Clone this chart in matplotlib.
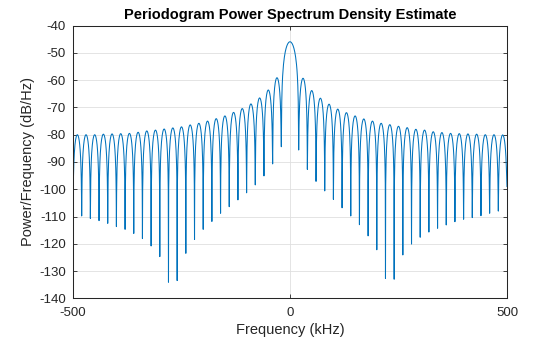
import numpy as np
import matplotlib
matplotlib.use("Agg")
from matplotlib import pyplot as plt

plt.rcParams['font.family'] = ['Liberation Sans', 'DejaVu Sans']
plt.rcParams['axes.unicode_minus'] = False

# null frequencies (kHz) and the level reached at each null (dB/Hz)
null_khz = [-500, -480, -460, -440, -420, -400, -380, -360, -340, -320,
            -300, -280, -260, -240, -220, -200, -180, -160, -140, -120,
            -100, -80, -60, -40, -20,
            20, 40, 60, 80, 100, 120, 140, 160, 180, 200,
            220, 240, 260, 280, 300, 320, 340, 360, 380, 400,
            420, 440, 460, 480, 500]
null_db = [-109.2, -109.8, -110.7, -111.5, -112.5, -113.7, -114.7, -116.2, -118.1, -120.8,
           -124.7, -134.1, -133.5, -123.5, -118.4, -114.7, -111.8, -108.8, -106.4, -103.9,
           -101.3, -98.4, -95.1, -90.7, -84.4,
           -85.6, -92.7, -97.1, -100.6, -103.7, -106.8, -109.8, -113.0, -117.1, -122.2,
           -132.7, -133.0, -124.1, -120.1, -117.6, -115.7, -114.3, -113.1, -111.9, -111.0,
           -110.4, -109.7, -108.8, -108.0, -99.0]

# top of each lobe between two neighbouring nulls (dB/Hz)
peak_db = [-80.0, -80.0, -80.0, -79.8, -79.7, -79.6, -79.5, -79.1, -78.6, -78.3,
           -77.9, -77.5, -77.1, -76.4, -75.8, -75.0, -74.1, -73.1, -71.8, -70.4,
           -68.7, -66.5, -63.6, -59.1,
           -45.9,
           -59.3, -63.8, -66.6, -68.8, -70.6, -71.9, -73.1, -74.2, -75.0, -75.8,
           -76.3, -76.9, -77.4, -78.0, -78.3, -78.9, -79.2, -79.5, -79.6, -79.7,
           -79.8, -80.0, -80.0, -80.1]

# build the trace lobe by lobe: arch from one null up to the peak and down to the next
freq = []
psd = []
t = np.linspace(0, 1, 41)
for i, top in enumerate(peak_db):
    f0, f1 = null_khz[i], null_khz[i + 1]
    a = 10 ** ((null_db[i] - top) / 10)
    b = 10 ** ((null_db[i + 1] - top) / 10)
    lobe = top + 10 * np.log10(np.sin(np.pi * t) ** 2 + a * (1 - t) + b * t)
    start = 0 if i == 0 else 1
    freq.extend(f0 + (f1 - f0) * t[start:])
    psd.extend(lobe[start:])

fig = plt.figure(figsize=(5.6, 3.37), dpi=100)
ax = fig.add_axes([73 / 560, 38.7 / 337, 434 / 560, 272.6 / 337])

ax.plot(freq, psd, color='#0072BD', linewidth=0.75)

ax.set_xlim(-500, 500)
ax.set_ylim(-140, -40)
ax.set_xticks([-500, 0, 500])
ax.set_yticks(np.arange(-140, -39, 10))
ax.grid(True, color='#dfdfdf', linewidth=0.6)
ax.set_axisbelow(True)

dark = '#262626'
for s in ax.spines.values():
    s.set_color(dark)
    s.set_linewidth(0.75)
ax.tick_params(direction='in', length=3, width=0.6, colors=dark, labelsize=9.5,
               top=True, right=True)
ax.tick_params(axis='x', pad=6)
ax.tick_params(axis='y', pad=5)

ax.set_xlabel('Frequency (kHz)', fontsize=10.5, color=dark, labelpad=3)
ax.set_ylabel('Power/Frequency (dB/Hz)', fontsize=10.5, color=dark, labelpad=3)
ax.set_title('Periodogram Power Spectrum Density Estimate', fontsize=10.5,
             fontweight='bold', pad=5)

fig.savefig('out.png', dpi=100)
